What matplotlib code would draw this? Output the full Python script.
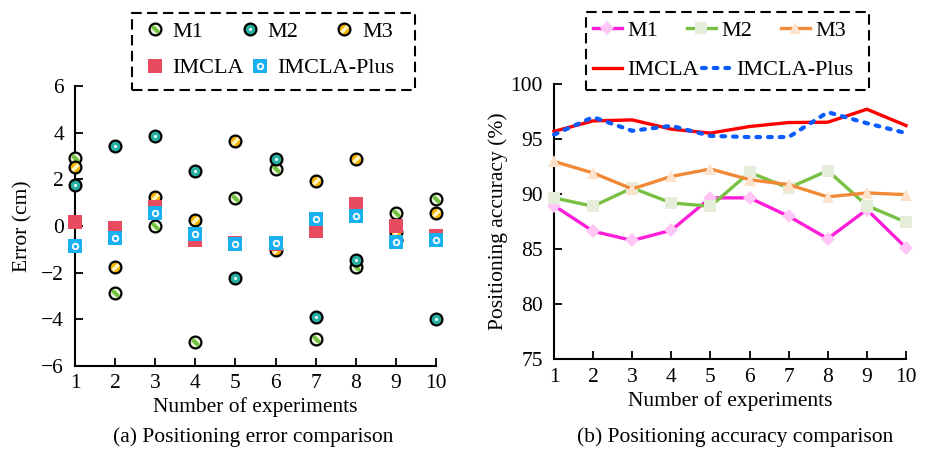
import matplotlib

matplotlib.use("Agg")
import matplotlib.pyplot as plt
from matplotlib.patches import Rectangle

plt.rcParams["font.family"] = ["Liberation Serif", "DejaVu Serif"]
plt.rcParams["font.size"] = 15

experiments = list(range(1, 11))

# (a) positioning error, cm
err_m1 = [2.90, -2.89, 0.00, -4.96, 1.21, 2.44, -4.86, -1.74, 0.54, 1.14]
err_m2 = [1.76, 3.44, 3.86, 2.37, -2.21, 2.87, -3.91, -1.46, -0.62, -3.99]
err_m3 = [2.52, -1.74, 1.23, 0.26, 3.64, -1.01, 1.93, 2.87, -0.27, 0.54]
err_imcla = [0.16, -0.07, 0.83, -0.62, -0.74, -0.78, -0.20, 0.94, 0.01, -0.43]
err_plus = [-0.84, -0.53, 0.57, -0.34, -0.79, -0.71, 0.29, 0.44, -0.67, -0.60]

# (b) positioning accuracy, %
acc_m1 = [88.96, 86.63, 85.79, 86.72, 89.66, 89.66, 87.99, 85.95, 88.60, 85.13]
acc_m2 = [89.66, 88.90, 90.56, 89.20, 88.90, 91.97, 90.56, 92.13, 88.96, 87.45]
acc_m3 = [92.97, 91.92, 90.47, 91.61, 92.28, 91.31, 90.86, 89.75, 90.11, 89.95]
acc_imcla = [95.70, 96.65, 96.74, 95.90, 95.54, 96.14, 96.50, 96.53, 97.71, 96.23]
acc_plus = [95.40, 96.99, 95.75, 96.20, 95.29, 95.18, 95.18, 97.44, 96.44, 95.54]

W, H = 930, 450
fig = plt.figure(figsize=(W / 100, H / 100), dpi=100)


def px_axes(x0, y0, x1, y1):
    return fig.add_axes([x0 / W, 1 - y1 / H, (x1 - x0) / W, (y1 - y0) / H])


def style_axes(ax):
    for s in ("top", "right"):
        ax.spines[s].set_visible(False)
    for s in ("left", "bottom"):
        ax.spines[s].set_linewidth(1.5)
    ax.tick_params(direction="in", length=5.5, width=1.3, labelsize=15.5)
    ax.tick_params(axis="y", pad=8)
    ax.tick_params(axis="x", pad=6)


def dashed_box(x0, y0, x1, y1):
    fig.patches.append(Rectangle((x0 / W, 1 - y1 / H), (x1 - x0) / W, (y1 - y0) / H,
                                 transform=fig.transFigure, fill=False, edgecolor="black",
                                 linewidth=1.5, linestyle=(0, (5, 2.6))))


# ---------- (a) ----------
ax1 = px_axes(75, 86, 436, 366)
circ = dict(marker="o", markersize=8.5, markeredgecolor="black", markeredgewidth=1.6,
            linestyle="none", clip_on=False)
h_m1 = ax1.plot(experiments, err_m1, markerfacecolor="#eef8e2", zorder=4, **circ)[0]
o_m1 = ax1.plot(experiments, err_m1, marker=(2, 2, 45), markersize=6, markeredgewidth=2.6,
                color="#72c23e", linestyle="none", clip_on=False, zorder=4)[0]
h_m2 = ax1.plot(experiments, err_m2, markerfacecolor="#25b2a4", zorder=5, **circ)[0]
o_m2 = ax1.plot(experiments, err_m2, marker="o", markersize=2.2, markeredgewidth=0,
                color="white", linestyle="none", clip_on=False, zorder=5)[0]
h_m3 = ax1.plot(experiments, err_m3, markerfacecolor="#f5b400", zorder=6, **circ)[0]
o_m3 = ax1.plot(experiments, err_m3, marker=(2, 2, -45), markersize=6, markeredgewidth=2.2,
                color="#fff3c0", linestyle="none", clip_on=False, zorder=6)[0]
h_im = ax1.plot(experiments, err_imcla, marker="s", markersize=9.5, markeredgewidth=0,
                color="#e84b5f", linestyle="none", clip_on=False, zorder=7)[0]
h_pl = ax1.plot(experiments, err_plus, marker="s", markersize=9.5, markeredgewidth=0,
                color="#18b0f0", linestyle="none", clip_on=False, zorder=8)[0]
o_pl = ax1.plot(experiments, err_plus, marker="o", markersize=4, markeredgewidth=1.3,
                markerfacecolor="none", markeredgecolor="white", linestyle="none",
                clip_on=False, zorder=8)[0]

ax1.set_xlim(1, 10)
ax1.set_ylim(-6, 6)
ax1.set_xticks(experiments)
ax1.set_yticks(range(-6, 7, 2))
style_axes(ax1)
ax1.set_xlabel("Number of experiments", fontsize=15.5, labelpad=3)
ax1.set_ylabel("Error (cm)", fontsize=15.5, labelpad=6)
fig.text(253 / W, 1 - 437 / H, "(a) Positioning error comparison", fontsize=15.5,
         ha="center", va="center")

dashed_box(132, 13, 415, 90)
leg_kw = dict(frameon=False, borderpad=0, borderaxespad=0, loc="center left", fontsize=16,
              numpoints=1)
fig.legend([(h_m1, o_m1), (h_m2, o_m2), (h_m3, o_m3)], ["M1", "M2", "M3"], ncol=3,
           bbox_to_anchor=(146 / W, 1 - 32 / H), handlelength=0.8, handletextpad=0.4,
           columnspacing=1.67, **leg_kw)
fig.legend([h_im, (h_pl, o_pl)], ["IMCLA", "IMCLA-Plus"], ncol=2,
           bbox_to_anchor=(146 / W, 1 - 68 / H), handlelength=0.8, handletextpad=0.4,
           columnspacing=0.3, **leg_kw)

# ---------- (b) ----------
ax2 = px_axes(554, 84, 906, 359.3)
lw = 2.4
l_m1 = ax2.plot(experiments, acc_m1, color="#ff1ed8", lw=lw, marker="D", markersize=7,
                markerfacecolor="#ffc6f6", markeredgewidth=0, clip_on=False, zorder=3)[0]
l_m2 = ax2.plot(experiments, acc_m2, color="#78c043", lw=lw, marker="s", markersize=8,
                markerfacecolor="#e6eedb", markeredgewidth=0, clip_on=False, zorder=3)[0]
l_m3 = ax2.plot(experiments, acc_m3, color="#f08a38", lw=lw, marker="^", markersize=9,
                markerfacecolor="#fde2cc", markeredgewidth=0, clip_on=False, zorder=3)[0]
l_im = ax2.plot(experiments, acc_imcla, color="#ff0000", lw=lw, clip_on=False, zorder=3)[0]
l_pl = ax2.plot(experiments, acc_plus, color="#0a5cff", lw=3.0, linestyle=(0, (0.9, 1.9)),
                dash_capstyle="round", clip_on=False, zorder=4)[0]

ax2.set_xlim(1, 10)
ax2.set_ylim(75, 100)
ax2.set_xticks(experiments)
ax2.set_yticks(range(75, 101, 5))
style_axes(ax2)
ax2.set_xlabel("Number of experiments", fontsize=15.5, labelpad=3)
ax2.set_ylabel("Positioning accuracy (%)", fontsize=15.5, labelpad=2)
fig.text(735 / W, 1 - 437 / H, "(b) Positioning accuracy comparison", fontsize=15.5,
         ha="center", va="center")

dashed_box(586, 12, 869, 90)
fig.legend([l_m1, l_m2, l_m3], ["M1", "M2", "M3"], ncol=3,
           bbox_to_anchor=(593 / W, 1 - 31 / H), handlelength=1.3, handletextpad=0.25,
           columnspacing=1.29, **leg_kw)
fig.legend([l_im, l_pl], ["IMCLA", "IMCLA-Plus"], ncol=2,
           bbox_to_anchor=(593 / W, 1 - 70 / H), handlelength=1.3, handletextpad=0.25,
           columnspacing=0.12, **leg_kw)

fig.savefig("out.png", dpi=100)
